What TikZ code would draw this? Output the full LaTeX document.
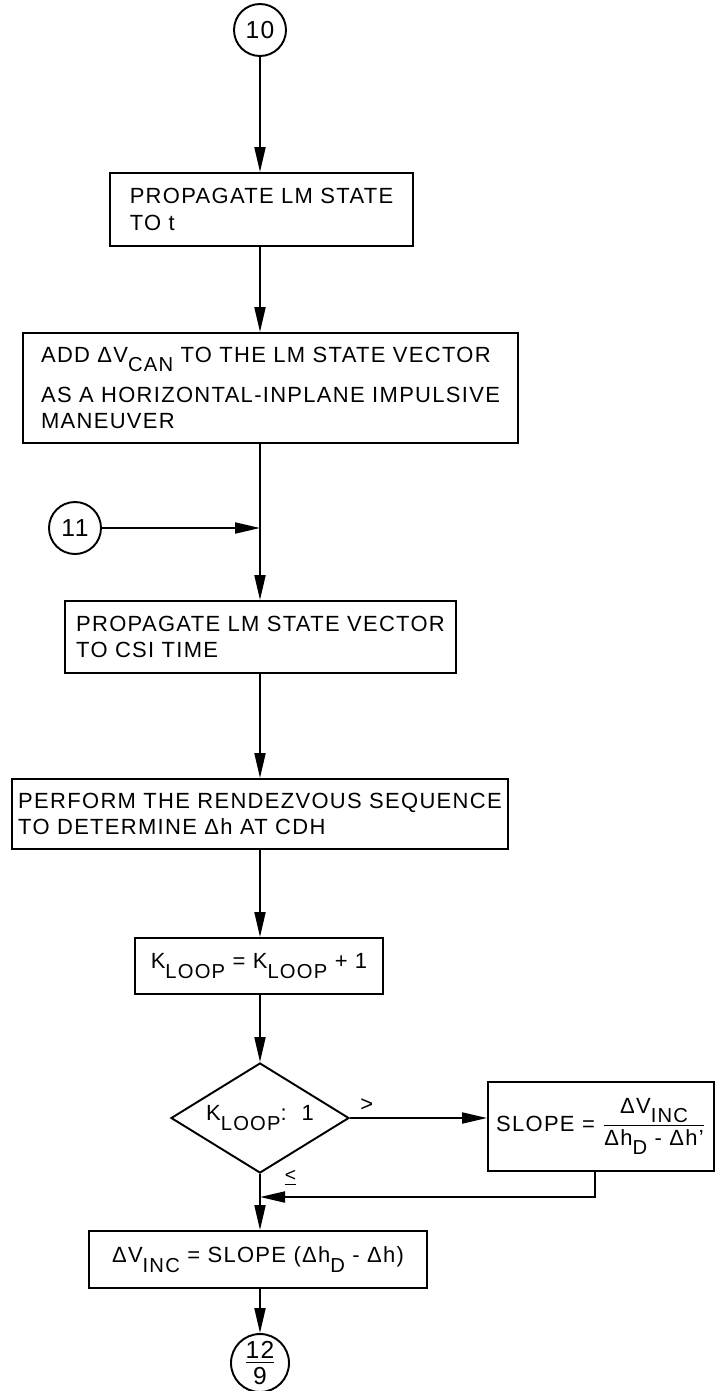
\documentclass[tikz,border=0pt]{standalone}
\usepackage{amsmath}
\usepackage{fontspec}
\setmainfont{Liberation Sans}[LetterSpace=6]
\usepackage{tikz}
\usetikzlibrary{shapes,arrows.meta,positioning,calc}
\newcommand\lsub[1]{\raisebox{-0.8ex}{\fontsize{11.5}{11.5}\selectfont #1}}

\begin{document}
\begin{tikzpicture}[line width=1.1pt, font=\fontsize{12.5}{15}\selectfont,
    flow/.style={-{Triangle[length=5mm,width=2.2mm]}},
    box/.style={draw, rectangle, align=left, inner sep=0pt},
    conn/.style={draw, circle, inner sep=0pt, font=\fontsize{14}{15}\selectfont},
    decide/.style={draw, diamond, aspect=1.62, inner sep=0pt}]
    \useasboundingbox (0,0) rectangle (14.42,-27.82);

    \node [conn, minimum size=1.04cm] (C10) at (5.2,-0.6) {10};
    \node [box, minimum width=6.06cm, minimum height=1.46cm] (B1) at (5.23,-4.19) {PROPAGATE LM STATE\\TO t};
    \node [box, minimum width=9.9cm, minimum height=2.2cm] (B2) at (5.41,-7.76) {ADD ΔV\lsub{CAN} TO THE LM STATE VECTOR\\[8pt]AS A HORIZONTAL-INPLANE IMPULSIVE\\MANEUVER};
    \node [conn, minimum size=1.04cm] (C11) at (1.5,-10.56) {11};
    \node [box, minimum width=7.82cm, minimum height=1.44cm] (B3) at (5.21,-12.74) {PROPAGATE LM STATE VECTOR\\TO CSI TIME};
    \node [box, minimum width=9.92cm, minimum height=1.4cm] (B4) at (5.2,-16.28) {PERFORM THE RENDEZVOUS SEQUENCE\\TO DETERMINE Δh AT CDH};
    \node [box, minimum width=4.96cm, minimum height=1.12cm] (B5) at (5.18,-19.32) {K\lsub{LOOP} = K\lsub{LOOP} + 1};
    \node [decide, minimum width=3.56cm, minimum height=2.2cm] (D) at (5.2,-22.36) {K\lsub{LOOP}:~~1};
    \node [box, minimum width=4.52cm, minimum height=1.78cm] (S) at (12.02,-22.53) {SLOPE = \(\dfrac{\text{ΔV\lsub{INC}}}{\text{Δh\lsub{D} - Δh'}}\)};
    \node [box, minimum width=6.76cm, minimum height=1.14cm] (B6) at (5.16,-25.19) {ΔV\lsub{INC} = SLOPE (Δh\lsub{D} - Δh)};
    \node [conn, minimum size=1.16cm] (C12) at (5.2,-27.26) {\shortstack{\underline{12}\\[-1pt]9}};
    \coordinate (J) at (5.2,-23.94);

    \draw [flow] (C10) -- (C10 |- B1.north);
    \draw [flow] (C10 |- B1.south) -- (C10 |- B2.north);
    \draw [flow] (C10 |- B2.south) -- (C10 |- B3.north);
    \draw [flow] (C11) -- (C11 -| C10);
    \draw [flow] (C10 |- B3.south) -- (C10 |- B4.north);
    \draw [flow] (C10 |- B4.south) -- (C10 |- B5.north);
    \draw [flow] (C10 |- B5.south) -- (D.north);
    \draw [flow] (D.east) -- (D.east -| S.west) node [pos=0, above right, xshift=2pt] {>};
    \draw [flow] (D.south) -- (C10 |- B6.north) node [pos=0, anchor=west, xshift=0.36cm, yshift=-0.08cm, font=\fontsize{11}{11}\selectfont] {\underline{<}};
    \draw [flow] ($(S.south)+(-0.12,0)$) |- (J);
    \draw [flow] (C10 |- B6.south) -- (C12);
\end{tikzpicture}
\end{document}
